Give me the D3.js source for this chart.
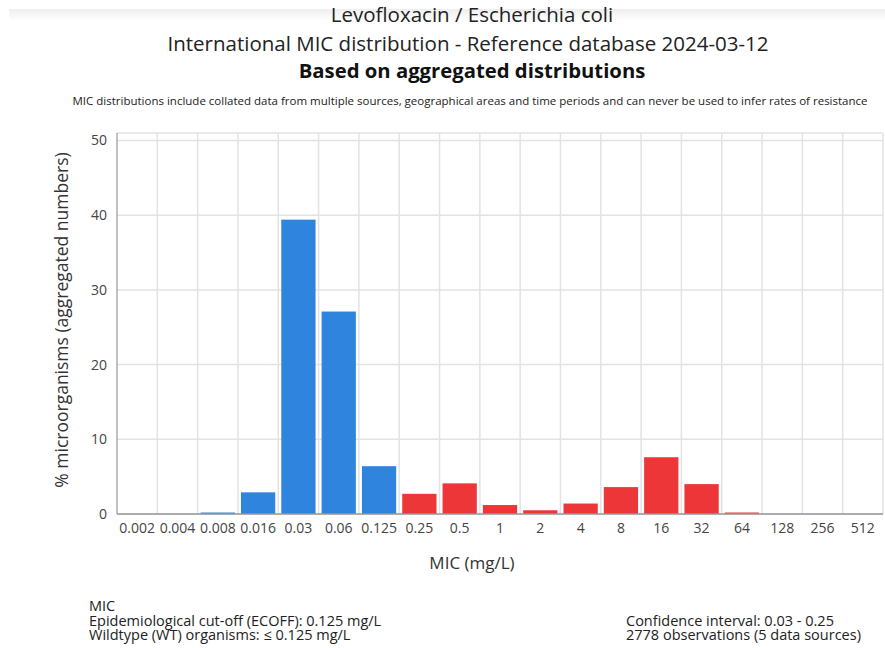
<!DOCTYPE html>
<html>
<head>
<meta charset="utf-8">
<script src="https://cdn.jsdelivr.net/npm/d3@7"></script>
<style>
	body { margin: 0; background: #fff; }
	svg { display: block; font-family: "Open Sans", sans-serif; }
</style>
</head>
<body>
<svg id="chart" width="885" height="648"></svg>
<script>
const micLabels = ['0.002', '0.004', '0.008', '0.016', '0.03', '0.06', '0.125', '0.25', '0.5',
	'1', '2', '4', '8', '16', '32', '64', '128', '256', '512'];
// % of isolates at each MIC
const percent = [0, 0, 0.2, 2.9, 39.4, 27.1, 6.4, 2.7, 4.1,
	1.2, 0.5, 1.4, 3.6, 7.6, 4.0, 0.2, 0, 0, 0];
const yTicks = [0, 10, 20, 30, 40, 50];
const ecoff = 0.125;

const titleLines = [
	'Levofloxacin / Escherichia coli',
	'International MIC distribution - Reference database 2024-03-12',
];
const subTitle = 'Based on aggregated distributions';
const disclaimer = 'MIC distributions include collated data from multiple sources, geographical areas and time periods and can never be used to infer rates of resistance';
const footLeft = ['MIC', 'Epidemiological cut-off (ECOFF): 0.125 mg/L', 'Wildtype (WT) organisms: \u2264 0.125 mg/L'];
const footRight = ['Confidence interval: 0.03 - 0.25', '2778 observations (5 data sources)'];

const svg = d3.select('#chart');
const plot = { left: 117, right: 883, top: 133, bottom: 514 };

// faint shadow band at the very top
const grad = svg.append('defs').append('linearGradient')
	.attr('id', 'topShade').attr('x1', 0).attr('x2', 0).attr('y1', 0).attr('y2', 1);
grad.append('stop').attr('offset', 0).attr('stop-color', '#eeeeee');
grad.append('stop').attr('offset', 1).attr('stop-color', '#ffffff');
svg.append('rect').attr('x', 9).attr('y', 9).attr('width', 876).attr('height', 12)
	.attr('fill', 'url(#topShade)');

const x = d3.scaleBand()
	.domain(micLabels)
	.range([plot.left, plot.right])
	.paddingInner(0.15)
	.paddingOuter(0.075);

const y = d3.scaleLinear()
	.domain([0, 51])
	.range([plot.bottom, plot.top]);

const half = (x.step() - x.bandwidth()) / 2;

// Grid
const gGrid = svg.append('g').attr('stroke', '#e3e3e3').attr('stroke-width', 1.5);
gGrid.selectAll('line.h').data(yTicks.concat([51])).enter().append('line')
	.attr('x1', plot.left).attr('x2', plot.right)
	.attr('y1', d => y(d)).attr('y2', d => y(d));
gGrid.selectAll('line.v').data(micLabels).enter().append('line')
	.attr('x1', d => x(d) + x.bandwidth() + half).attr('x2', d => x(d) + x.bandwidth() + half)
	.attr('y1', plot.top).attr('y2', plot.bottom);

// Bars
svg.append('g').selectAll('rect').data(micLabels).enter().append('rect')
	.attr('x', d => x(d))
	.attr('width', x.bandwidth())
	.attr('y', (d, i) => y(percent[i]))
	.attr('height', (d, i) => y(0) - y(percent[i]))
	.attr('fill', d => (+d <= ecoff ? '#2f85dd' : '#ec3638'));

// Axis lines
svg.append('line').attr('x1', plot.left).attr('x2', plot.left)
	.attr('y1', plot.top).attr('y2', plot.bottom)
	.attr('stroke', '#999').attr('stroke-width', 1.2);
svg.append('line').attr('x1', plot.left).attr('x2', plot.right)
	.attr('y1', plot.bottom).attr('y2', plot.bottom)
	.attr('stroke', '#999').attr('stroke-width', 1.5);

// Y tick labels
const yAxis = svg.append('g')
	.attr('transform', `translate(${plot.left},0)`)
	.call(d3.axisLeft(y).tickValues(yTicks).tickSize(0).tickPadding(10));
yAxis.select('.domain').remove();
yAxis.selectAll('text').attr('font-family', '"Open Sans", sans-serif')
	.attr('font-size', 14).attr('fill', '#444');

// X tick labels
const xAxis = svg.append('g')
	.attr('transform', `translate(0,${plot.bottom})`)
	.call(d3.axisBottom(x).tickSize(0).tickPadding(9));
xAxis.select('.domain').remove();
xAxis.selectAll('text').attr('font-family', '"Open Sans", sans-serif')
	.attr('font-size', 14).attr('fill', '#444');

// Axis titles
svg.append('text').attr('x', 472).attr('y', 569)
	.attr('text-anchor', 'middle').attr('font-size', 17).attr('fill', '#333')
	.text('MIC (mg/L)');
svg.append('text')
	.attr('transform', 'translate(68,320) rotate(-90)')
	.attr('text-anchor', 'middle').attr('font-size', 17.5).attr('fill', '#333')
	.text('% microorganisms (aggregated numbers)');

// Titles
svg.append('text').attr('x', 472).attr('y', 22).attr('text-anchor', 'middle')
	.attr('font-size', 20.5).attr('fill', '#222').text(titleLines[0]);
svg.append('text').attr('x', 468).attr('y', 51).attr('text-anchor', 'middle')
	.attr('font-size', 20.5).attr('fill', '#222').text(titleLines[1]);
svg.append('text').attr('x', 472).attr('y', 78).attr('text-anchor', 'middle')
	.attr('font-size', 20.3).attr('font-weight', 'bold').attr('fill', '#111').text(subTitle);
svg.append('text').attr('x', 470).attr('y', 105).attr('text-anchor', 'middle')
	.attr('font-size', 11.5).attr('fill', '#222').text(disclaimer);

// Footer
svg.append('g').selectAll('text').data(footLeft).enter().append('text')
	.attr('x', 89).attr('y', (d, i) => 611 + i * 14.5)
	.attr('font-size', 14.5).attr('fill', '#222').text(d => d);
svg.append('g').selectAll('text').data(footRight).enter().append('text')
	.attr('x', 626).attr('y', (d, i) => 625.5 + i * 14.5)
	.attr('font-size', 14.5).attr('fill', '#222').text(d => d);
</script>
</body>
</html>
